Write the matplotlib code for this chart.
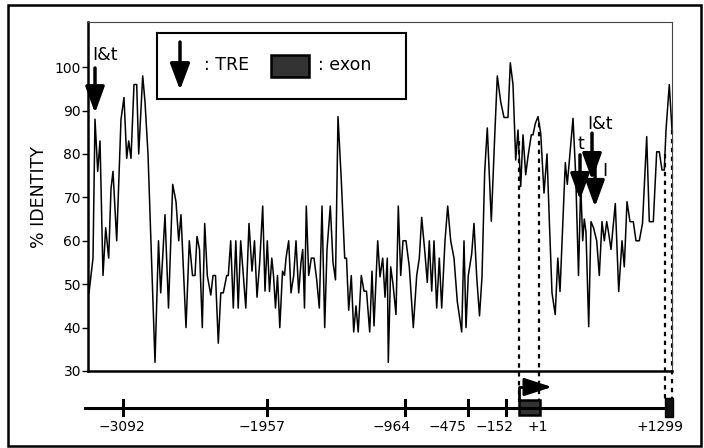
import numpy as np
import matplotlib.pyplot as plt
from matplotlib.patches import Rectangle

# alignment position (scaled units along the alignment) and % identity
pos = [1, 5, 7, 9.7, 12, 15, 17.7, 20.7, 23, 25,
       28.7, 33, 36, 38.7, 40.7, 43, 46, 48.7, 50.7, 54.7,
       57, 60, 67, 70.5, 72.7, 77, 80.5, 84.7, 88, 90.7,
       93, 98, 101.3, 104.5, 107, 109, 111.5, 114.3, 116.7, 119.3,
       122.8, 125, 127.5, 130.3, 132.8, 135.3, 138.7, 140.3, 142.7, 145.3,
       147.8, 150.2, 152.7, 155.3, 157.8, 161, 164, 166.5, 169, 171.7,
       174.7, 177, 179.3, 181.5, 183.8, 185.5, 187.5, 189.5, 191.8, 194.5,
       196.5, 198, 200.7, 203, 205.7, 208, 210.7, 213, 214.7, 216.5,
       218.3, 220.7, 223.3, 226, 228.7, 231.3, 234, 236.7, 239, 242.3,
       245, 247.5, 250, 253.3, 256.7, 258.5, 260.7, 263.3, 265.7, 268,
       270.2, 273.3, 276, 278.5, 281.7, 284, 286, 289.7, 292, 294.7,
       297, 299.3, 300.3, 302.7, 305, 308, 310.3, 312.7, 315, 318,
       321.3, 325.3, 328.7, 331.3, 333.7, 337, 339.3, 341.3, 343.7, 346,
       348.7, 351.3, 353.7, 357, 359.7, 362.7, 366, 369.3, 373.7, 376,
       378, 380.3, 383.7, 386, 388.7, 391.5, 394, 396.7, 399.3, 403.3,
       406.7, 409.3, 412.7, 416, 420, 422.3, 425, 427.7, 430, 432.7,
       435, 437.7, 440, 443.3, 445, 447.3, 450, 452.7, 456, 459,
       461.3, 464, 467.2, 469.8, 472, 477.3, 479.3, 485, 487.7, 490.5,
       492.7, 494.7, 496.3, 498, 500.7, 503, 505.5, 508.7, 511.3, 514,
       516.3, 518.7, 520.5, 523, 527.3, 530.7, 534, 536.3, 539, 542,
       545.3, 548, 551.3, 554.5, 558.7, 561.3, 565.3, 568.7, 571.3, 574,
       576.3, 578, 581.3, 584]
identity = [48, 56, 88, 76, 83, 52, 63, 56, 72, 76,
            60, 88, 93, 79, 83, 79, 96, 96, 80, 98,
            92, 80, 32, 60, 48, 66, 44.5, 73, 69, 60,
            66, 40, 60, 52, 52, 61, 58, 40, 64, 52,
            47.5, 52, 52, 36.4, 48, 48, 52, 52, 60, 44.5,
            60, 44.5, 60, 52, 44.5, 64, 53, 60, 47, 55,
            68, 48.4, 60, 48.3, 56, 52, 44.5, 52, 40, 53,
            52, 56, 60, 48, 52, 60, 48, 55, 58, 44.5,
            68, 52, 56, 56, 51, 44.5, 68, 40, 58, 68,
            55, 51, 88.6, 74, 56, 56, 44, 52, 39, 45,
            39, 52, 48.4, 48.4, 39, 53, 40.4, 60, 51.7, 56,
            47, 56, 32, 54, 50, 43, 68, 52, 60, 60,
            54, 40, 52, 56, 65.4, 57, 50.4, 60, 48.4, 60,
            44.5, 56, 44.5, 60, 68, 60, 56, 46, 39, 60,
            40, 52, 57, 64, 51.7, 42.7, 51.7, 76, 86, 64.5,
            84, 98, 92, 88.4, 88.4, 101, 96, 78.6, 85.5, 72.5,
            84.4, 75.2, 79.4, 84.4, 84.4, 87, 88.6, 84.8, 71, 80,
            64.8, 48, 43, 56, 48.3, 78, 73, 88.2, 75.2, 52,
            73, 60, 65, 62, 40.2, 64.4, 63, 60, 52, 64.4,
            60, 64.4, 62, 58, 68.6, 48.3, 60, 54, 69, 64.4,
            64.4, 60, 60, 64, 84, 64.4, 64.4, 80.5, 80.5, 76.3,
            76.3, 85.5, 96, 85.5]

# TRE sites: shaft x, tail and tip in % identity, label
tre_x = [7, 492, 504, 507]
tre_tail = [99.8, 79.8, 84.8, 79.8]
tre_tip = [89.4, 69.4, 74.0, 67.8]
tre_labels = ['I&t', 't', 'I&t', 'I']
tre_label_x = [4, 489, 499, 514]
tre_label_y = [102.8, 82.3, 86.8, 76.0]

# gene map below the plot
gene_start, gene_end = -3, 577
site_labels = ['\u22123092', '\u22121957', '\u2212964', '\u2212475', '\u2212152']
site_x = [35, 179, 317, 380, 418]
site_label_x = [34, 174, 304, 359, 407]
exon1 = (431, 452)
exon2 = (577, 585)
exon_labels = ['+1', '+1299']
exon_label_x = [450, 572]
dash_x = [430.5, 451, 577, 584]

fig = plt.figure(figsize=(7.04, 4.48), dpi=100)
W, H = 704, 448

def fbox(x0, y0, x1, y1):
    return [x0 / W, 1 - y1 / H, (x1 - x0) / W, (y1 - y0) / H]

fig.add_artist(Rectangle((8 / W, 1 - 446 / H), 693 / W, 441 / H,
                         transform=fig.transFigure, fill=False, lw=1.8, ec='black'))

ax = fig.add_axes(fbox(88, 22, 672, 371))
ax.plot(pos, identity, color='black', lw=1.1)
ax.set_xlim(0, 584)
ax.set_ylim(30, 110.4)
ax.set_yticks(range(30, 101, 10))
ax.set_xticks([])
ax.tick_params(axis='y', length=4, width=1, pad=1, labelsize=10)
for s in ['left', 'bottom']:
    ax.spines[s].set_linewidth(1.8)
for s in ['top', 'right']:
    ax.spines[s].set_linewidth(0.8)
    ax.spines[s].set_color('#444444')
ax.set_ylabel('% IDENTITY', fontsize=12.5, labelpad=5)

for x, t0, t1 in zip(tre_x, tre_tail, tre_tip):
    ax.annotate('', xy=(x, t1), xytext=(x, t0),
                arrowprops=dict(arrowstyle='-|>,head_length=1.6,head_width=0.58',
                                color='black', lw=2.5, shrinkA=0, shrinkB=0))
for lab, x, y in zip(tre_labels, tre_label_x, tre_label_y):
    ax.text(x, y, lab, fontsize=12.5, ha='left', va='center')

# dashed guides from the curve down to the exons
for x in dash_x:
    top = np.interp(x, pos, identity)
    ax.plot([x, x], [top, 23.3], color='black', lw=1.6, ls=(0, (2, 2)), clip_on=False)

# gene map
gx = fig.add_axes(fbox(88, 375, 672, 440))
gx.set_xlim(0, 584)
gx.set_ylim(0, 65)
gx.axis('off')
gx.plot([gene_start, gene_end], [32, 32], color='black', lw=2.2, clip_on=False)
for x in site_x:
    gx.plot([x, x], [25, 40], color='black', lw=2.2, clip_on=False)
for lab, x in zip(site_labels, site_label_x):
    gx.text(x, 13, lab, fontsize=10, ha='center', va='center')
for lab, x in zip(exon_labels, exon_label_x):
    gx.text(x, 13, lab, fontsize=10, ha='center', va='center')
gx.add_patch(Rectangle((exon1[0], 25), exon1[1] - exon1[0], 15,
                       fc='#333333', ec='black', lw=1.8, clip_on=False))
gx.add_patch(Rectangle((exon2[0], 23), exon2[1] - exon2[0], 19,
                       fc='#111111', ec='black', lw=1, clip_on=False))
# transcription start arrow
gx.plot([exon1[0], exon1[0], 440], [40, 53, 53], color='black', lw=2, clip_on=False)
gx.annotate('', xy=(464, 53), xytext=(439, 53),
            arrowprops=dict(arrowstyle='-|>,head_length=1.7,head_width=0.55',
                            color='black', lw=2, shrinkA=0, shrinkB=0),
            annotation_clip=False)

# key box
kx = fig.add_axes(fbox(157, 33, 406, 99))
kx.set_xlim(0, 249)
kx.set_ylim(66, 0)
kx.set_xticks([])
kx.set_yticks([])
for s in kx.spines.values():
    s.set_linewidth(1.5)
kx.annotate('', xy=(23, 57), xytext=(23, 9),
            arrowprops=dict(arrowstyle='-|>,head_length=1.6,head_width=0.6',
                            color='black', lw=2.5, shrinkA=0, shrinkB=0))
kx.text(47, 32, ': TRE', fontsize=12.5, ha='left', va='center')
kx.add_patch(Rectangle((114, 22), 38, 22, fc='#333333', ec='black', lw=1.8))
kx.text(161, 32, ': exon', fontsize=12.5, ha='left', va='center')

fig.savefig('out.png', dpi=100)
